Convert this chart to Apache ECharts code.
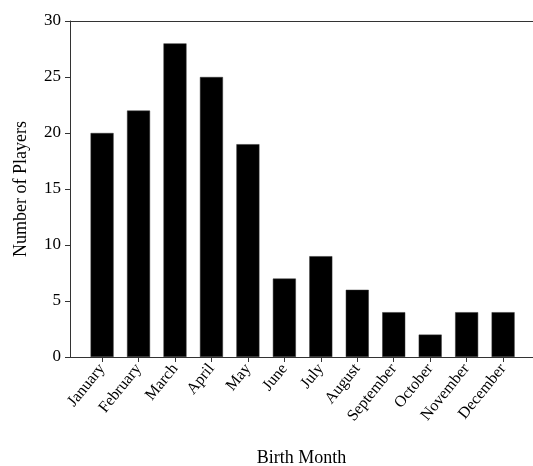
<!DOCTYPE html>
<html>
<head>
<meta charset="utf-8">
<script src="https://cdn.jsdelivr.net/npm/echarts@6/dist/echarts.min.js"></script>
<style>
  html, body { margin: 0; padding: 0; background: #fff; }
  #main { width: 533px; height: 466px; }
</style>
</head>
<body>
<div id="main"></div>
<script>
var months = ['January', 'February', 'March', 'April', 'May', 'June',
  'July', 'August', 'September', 'October', 'November', 'December'];
var players = [20, 22, 28, 25, 19, 7, 9, 6, 4, 2, 4, 4];
var yTicks = [0, 5, 10, 15, 20, 25, 30];

var positions = months.map(function (m, i) { return i; });
var barData = players.map(function (v, i) { return [i, v]; });

var font = '"Liberation Serif", "DejaVu Serif", serif';
var chart = echarts.init(document.getElementById('main'));

var option = {
  backgroundColor: '#fff',
  animation: false,
  grid: { left: 70, right: 0, top: 21, bottom: 109, outerBoundsMode: 'none', containLabel: false },
  xAxis: [
    {
      type: 'value',
      min: -0.88,
      max: 11.82,
      name: 'Birth Month',
      nameLocation: 'middle',
      nameGap: 92,
      nameTextStyle: { fontFamily: font, fontSize: 18, color: '#000' },
      splitLine: { show: false },
      axisLine: { onZero: false, lineStyle: { color: '#333', width: 1 } },
      axisTick: { show: true, length: 5, customValues: positions, lineStyle: { color: '#333' } },
      axisLabel: {
        customValues: positions,
        rotate: 51,
        margin: 9,
        fontFamily: font,
        fontSize: 16,
        color: '#000',
        formatter: function (v) { return months[Math.round(v)]; }
      }
    },
    {
      type: 'value',
      position: 'top',
      min: 0,
      max: 1,
      axisLine: { show: true, onZero: false, lineStyle: { color: '#333', width: 1 } },
      axisTick: { show: false },
      axisLabel: { show: false },
      splitLine: { show: false }
    }
  ],
  yAxis: {
    type: 'value',
    min: 0,
    max: 30,
    interval: 5,
    name: 'Number of Players',
    nameLocation: 'middle',
    nameGap: 40,
    nameTextStyle: { fontFamily: font, fontSize: 18, color: '#000' },
    splitLine: { show: false },
    axisLine: { show: true, onZero: false, lineStyle: { color: '#333', width: 1 } },
    axisTick: { show: true, length: 5, lineStyle: { color: '#333' } },
    axisLabel: {
      fontFamily: font, fontSize: 17, color: '#000', margin: 9,
      formatter: function (v) { return yTicks.indexOf(v) >= 0 ? String(v) : ''; }
    }
  },
  series: [
    {
      type: 'bar',
      data: barData,
      barWidth: 23,
      itemStyle: { color: '#000', borderColor: '#333', borderWidth: 0.5 }
    }
  ]
};
chart.setOption(option);
</script>
</body>
</html>
